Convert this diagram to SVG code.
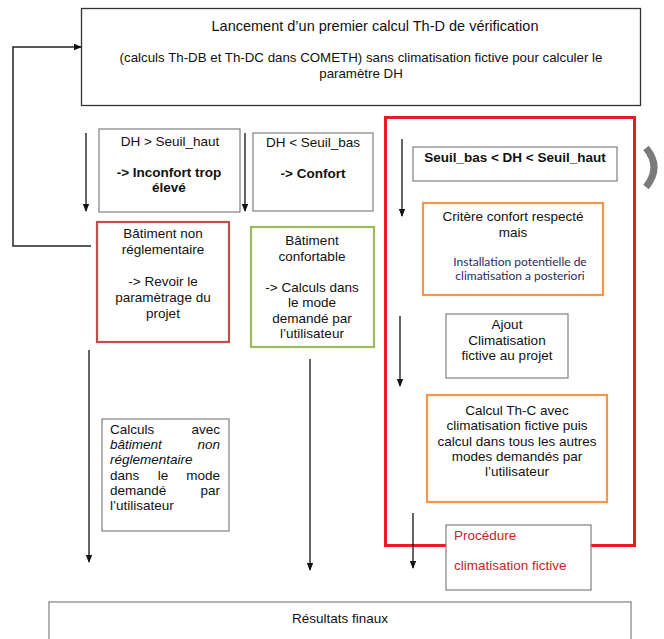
<svg xmlns="http://www.w3.org/2000/svg" width="664" height="639" viewBox="0 0 664 639">
<defs>
<marker id="ah" markerWidth="8" markerHeight="8" refX="7" refY="4" orient="auto" markerUnits="userSpaceOnUse">
<path d="M0,0.8 L8,4 L0,7.2 Z" fill="#111"/>
</marker>
</defs>
<style>
text{font-family:"Liberation Sans",Arial,sans-serif;font-size:13.5px;fill:#111}
.c{text-anchor:middle}
.e{text-anchor:end}
.b{font-weight:bold}
.i{font-style:italic}
.t1{font-size:14.5px}
.t2{font-size:13.3px}
.gray{fill:#fff;stroke:#7f7f7f;stroke-width:1.2}
.blk{fill:#fff;stroke:#333;stroke-width:1.3}
.red{fill:#fff;stroke:#c0504d;stroke-width:2.2}
.grn{fill:#fff;stroke:#9bbb59;stroke-width:2.2}
.org{fill:#fff;stroke:#f79646;stroke-width:2.2}
.big{fill:none;stroke:#e31e24;stroke-width:3}
.small{font-family:Lato,"Liberation Sans",sans-serif;font-size:12px;fill:#1f2d5a}
.rt{fill:#c8232b}
.arr{stroke:#111;stroke-width:1.3;fill:none;marker-end:url(#ah)}
.ln{stroke:#222;stroke-width:1.5;fill:none}
</style>
<rect width="664" height="639" fill="#fff"/>

<g id="top">
<rect class="blk" x="81.5" y="8.5" width="559" height="97"/>
<text class="c t1" x="375" y="31">Lancement d’un premier calcul Th-D de vérification</text>
<text class="c t2" x="361" y="62">(calculs Th-DB et Th-DC dans COMETH) sans climatisation fictive pour calculer le</text>
<text class="c t2" x="361" y="78">paramètre DH</text>
</g>

<g id="dh-haut">
<rect class="gray" x="99" y="129" width="141" height="83"/>
<text class="c" x="170" y="146">DH &gt; Seuil_haut</text>
<text class="c b" x="169" y="177">-&gt; Inconfort trop</text>
<text class="c b" x="169" y="192">élevé</text>
</g>

<g id="dh-bas">
<rect class="gray" x="253" y="133" width="120" height="78"/>
<text class="c" x="313" y="147">DH &lt; Seuil_bas</text>
<text class="c b" x="313" y="178">-&gt; Confort</text>
</g>

<g id="non-regl">
<rect class="red" x="97" y="222" width="132" height="120"/>
<text class="c" x="163" y="238">Bâtiment non</text>
<text class="c" x="163" y="254">réglementaire</text>
<text class="c" x="163" y="286">-&gt; Revoir le</text>
<text class="c" x="163" y="302">paramètrage du</text>
<text class="c" x="163" y="318">projet</text>
</g>

<g id="confortable">
<rect class="grn" x="251" y="227" width="123" height="120"/>
<text class="c" x="312" y="245">Bâtiment</text>
<text class="c" x="312" y="261">confortable</text>
<text class="c" x="312" y="292">-&gt; Calculs dans</text>
<text class="c" x="312" y="307">le mode</text>
<text class="c" x="312" y="323">demandé par</text>
<text class="c" x="312" y="338">l’utilisateur</text>
</g>

<g id="procedure-frame">
<rect class="big" x="385.5" y="117.5" width="249" height="428"/>
</g>

<g id="seuil">
<rect class="gray" x="413" y="147" width="204" height="34"/>
<text class="c b" x="515" y="162">Seuil_bas &lt; DH &lt; Seuil_haut</text>
</g>

<g id="critere">
<rect class="org" x="423" y="203" width="180" height="92"/>
<text class="c" x="513" y="221">Critère confort respecté</text>
<text class="c" x="513" y="237">mais</text>
<text class="c small" x="520" y="266">Installation potentielle de</text>
<text class="c small" x="520" y="280">climatisation a posteriori</text>
</g>

<g id="ajout">
<rect class="gray" x="446" y="314" width="122" height="64"/>
<text class="c" x="507" y="329">Ajout</text>
<text class="c" x="507" y="345">Climatisation</text>
<text class="c" x="507" y="360">fictive au projet</text>
</g>

<g id="calcul-thc">
<rect class="org" x="427" y="395" width="180" height="107"/>
<text class="c" x="517" y="415">Calcul Th-C avec</text>
<text class="c" x="517" y="430">climatisation fictive puis</text>
<text class="c" x="517" y="446">calcul dans tous les autres</text>
<text class="c" x="517" y="461">modes demandés par</text>
<text class="c" x="517" y="476">l’utilisateur</text>
</g>

<g id="procedure">
<rect class="gray" x="446" y="525" width="145" height="65"/>
<text class="rt" x="454" y="540">Procédure</text>
<text class="rt" x="454" y="570">climatisation fictive</text>
</g>

<g id="calculs-non-regl">
<rect class="gray" x="102" y="419" width="127" height="112"/>
<text x="110" y="434">Calculs</text><text class="e" x="220" y="434">avec</text>
<text class="i" x="110" y="449">bâtiment</text><text class="e i" x="220" y="449">non</text>
<text class="i" x="110" y="464">réglementaire</text>
<text x="110" y="480">dans</text><text class="c" x="163" y="480">le</text><text class="e" x="220" y="480">mode</text>
<text x="110" y="495">demandé</text><text class="e" x="220" y="495">par</text>
<text x="110" y="510">l’utilisateur</text>
</g>

<g id="resultats">
<rect class="gray" x="49" y="602" width="582" height="45"/>
<text class="c" x="340" y="623">Résultats finaux</text>
</g>

<g id="connectors">
<path class="ln" d="M91,246 H13 V47 H73" />
<path class="arr" d="M73,47 H81"/>
<path class="arr" d="M86,133 V211"/>
<path class="arr" d="M245,133 V211"/>
<path class="arr" d="M402,139 V216"/>
<path class="arr" d="M400,316 V386"/>
<path class="arr" d="M413,513 V568"/>
<path class="arr" d="M89,350 V562"/>
<path class="arr" d="M310,359 V570"/>
</g>

<path d="M646,148 Q662,167 646,187" fill="none" stroke="#7a7a7a" stroke-width="7"/>
</svg>
